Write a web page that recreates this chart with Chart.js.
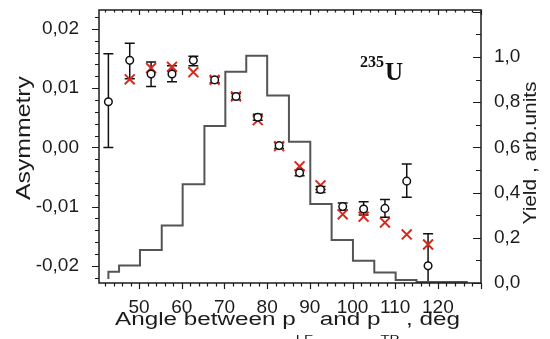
<!DOCTYPE html>
<html>
<head>
<meta charset="utf-8">
<script src="https://cdn.jsdelivr.net/npm/chart.js@4.4.0/dist/chart.umd.min.js"></script>
<style>
  html, body { margin: 0; padding: 0; background: #fff; }
  canvas { display: block; }
</style>
</head>
<body>
<canvas id="chartA" width="550" height="339"></canvas>
<script>
// measured asymmetry (circles with error bars)
const angles = [42.8, 47.8, 52.8, 57.7, 62.7, 67.7, 72.7, 77.8, 82.8, 87.6, 92.5, 97.7, 102.6, 107.6, 112.7, 117.7];
const asymmetry = [0.0077, 0.0147, 0.0124, 0.0124, 0.0147, 0.0114, 0.0086, 0.0051, 0.0003, -0.0043, -0.0071, -0.0100, -0.0104, -0.0103, -0.0057, -0.0200];
const errLow = [0.0000, 0.0116, 0.0103, 0.0111, 0.0138, 0.0109, 0.0081, 0.0046, -0.0002, -0.0048, -0.0076, -0.0106, -0.0114, -0.0118, -0.0084, -0.0260];
const errHigh = [0.0158, 0.0176, 0.0144, 0.0138, 0.0154, 0.0119, 0.0091, 0.0056, 0.0008, -0.0038, -0.0066, -0.0094, -0.0092, -0.0088, -0.0028, -0.0146];

// model asymmetry (red crosses)
const modelAngles = [47.8, 52.8, 57.7, 62.7, 67.7, 72.7, 77.8, 82.8, 87.6, 92.5, 97.7, 102.6, 107.6, 112.7, 117.7];
const modelAsym = [0.0115, 0.0134, 0.0136, 0.0127, 0.0114, 0.0086, 0.0046, 0.0002, -0.0032, -0.0064, -0.0113, -0.0117, -0.0127, -0.0147, -0.0164];

// yield histogram (right axis)
const binEdges = [42.8, 45.3, 50.2, 55.3, 60.2, 65.3, 70.2, 75.1, 80.0, 85.1, 90.1, 95.1, 100.1, 105.1, 110.1, 115.0, 120.0, 127.0];
const yieldValues = [0.018, 0.05, 0.077, 0.146, 0.254, 0.437, 0.695, 0.935, 1.006, 0.83, 0.625, 0.35, 0.19, 0.099, 0.046, 0.013, 0.004];

const xTicks = [50, 60, 70, 80, 90, 100, 110, 120];
const leftTicks = [-0.02, -0.01, 0, 0.01, 0.02];
const rightTicks = [0, 0.2, 0.4, 0.6, 0.8, 1.0];

const FONT = "'Liberation Sans', Arial, sans-serif";
const INK = '#1c1c1c';

// draw text squeezed/stretched to a target width
function stretchText(ctx, text, x, y, font, targetW, rot) {
    ctx.save();
    ctx.font = font;
    const k = targetW / ctx.measureText(text).width;
    ctx.translate(x, y);
    if (rot) ctx.rotate(rot);
    ctx.scale(k, 1);
    ctx.textAlign = 'center';
    ctx.textBaseline = 'middle';
    ctx.fillText(text, 0, 0);
    ctx.restore();
}

const errorBars = {
    id: 'errorBars',
    beforeDatasetsDraw(chart) {
        const {ctx, chartArea: a, scales: {x, y}} = chart;
        ctx.save();
        ctx.beginPath();
        ctx.rect(a.left, a.top, a.right - a.left, a.bottom - a.top);
        ctx.clip();
        ctx.strokeStyle = '#111';
        ctx.lineWidth = 1.5;
        angles.forEach((ang, i) => {
            const px = x.getPixelForValue(ang);
            const lo = y.getPixelForValue(errLow[i]);
            const hi = y.getPixelForValue(errHigh[i]);
            ctx.beginPath();
            ctx.moveTo(px, lo); ctx.lineTo(px, hi);
            ctx.moveTo(px - 5, lo); ctx.lineTo(px + 5, lo);
            ctx.moveTo(px - 5, hi); ctx.lineTo(px + 5, hi);
            ctx.stroke();
        });
        ctx.restore();
    }
};

const frameAndText = {
    id: 'frameAndText',
    afterDraw(chart) {
        const {ctx, chartArea: a, scales: {x, y, y1}} = chart;
        ctx.save();
        ctx.strokeStyle = INK;
        ctx.lineWidth = 1.5;
        ctx.strokeRect(a.left, a.top, a.right - a.left, a.bottom - a.top);
        ctx.lineWidth = 1.2;
        ctx.beginPath();
        // bottom (outward) and top (inward) ticks
        for (let v = 42; v <= 130; v += 2) {
            const px = Math.round(x.getPixelForValue(v)) + 0.5;
            const len = v % 10 === 0 ? 6 : 3.5;
            ctx.moveTo(px, a.bottom); ctx.lineTo(px, a.bottom + len);
            ctx.moveTo(px, a.top); ctx.lineTo(px, a.top + len - 1);
        }
        // left ticks (outward)
        for (let k = -11; k <= 11; k++) {
            const py = Math.round(y.getPixelForValue(k * 0.002)) + 0.5;
            const len = k % 5 === 0 ? 7 : 4;
            ctx.moveTo(a.left, py); ctx.lineTo(a.left - len, py);
        }
        // right ticks (inward)
        for (let k = 0; k <= 12; k++) {
            const py = Math.round(y1.getPixelForValue(k * 0.1)) + 0.5;
            const len = k % 2 === 0 ? 8 : 5;
            ctx.moveTo(a.right, py); ctx.lineTo(a.right - len, py);
        }
        ctx.stroke();

        ctx.fillStyle = INK;
        stretchText(ctx, 'Asymmetry', 24, 138, '20px ' + FONT, 124, -Math.PI / 2);
        stretchText(ctx, 'Yield , arb.units', 531, 153, '19px ' + FONT, 143, -Math.PI / 2);

        // x-axis title with subscripts
        const parts = [['Angle between p', 0], ['LF', 1], [' and p', 0], ['TP', 1], [' , deg', 0]];
        const mainF = '18px ' + FONT, subF = '11px ' + FONT;
        let total = 0;
        parts.forEach(([t, s]) => { ctx.font = s ? subF : mainF; total += ctx.measureText(t).width; });
        ctx.translate(115, 325);
        ctx.scale(345 / total, 1);
        ctx.textAlign = 'left';
        ctx.textBaseline = 'alphabetic';
        let cx = 0;
        parts.forEach(([t, s]) => {
            ctx.font = s ? subF : mainF;
            ctx.fillText(t, cx, s ? 18 : 0);
            cx += ctx.measureText(t).width;
        });
        ctx.restore();

        // isotope label
        ctx.save();
        ctx.fillStyle = '#111';
        ctx.textBaseline = 'alphabetic';
        ctx.font = "bold 16px 'Liberation Serif', 'Times New Roman', serif";
        ctx.fillText('235', 360, 67);
        ctx.font = "bold 25px 'Liberation Serif', 'Times New Roman', serif";
        ctx.fillText('U', 385, 80);
        ctx.restore();
    }
};

function noPad(s) {
    s.paddingTop = 0; s.paddingBottom = 0; s.paddingLeft = 0; s.paddingRight = 0;
}

const ctxA = document.getElementById('chartA').getContext('2d');
const chartA = new Chart(ctxA, {
    data: {
        datasets: [{
            type: 'scatter',
            label: 'Experiment',
            data: angles.map((a, i) => ({x: a, y: asymmetry[i]})),
            yAxisID: 'y',
            pointStyle: 'circle',
            pointRadius: 3.8,
            pointBackgroundColor: '#fff',
            pointBorderColor: '#111',
            pointBorderWidth: 1.5,
        }, {
            type: 'scatter',
            label: 'Model',
            data: modelAngles.map((a, i) => ({x: a, y: modelAsym[i]})),
            yAxisID: 'y',
            pointStyle: 'crossRot',
            pointRadius: 7,
            pointBorderColor: '#d8281e',
            pointBorderWidth: 2,
        }, {
            type: 'line',
            label: 'Yield',
            data: binEdges.map((e, i) => ({x: e, y: yieldValues[Math.min(i, yieldValues.length - 1)]})),
            yAxisID: 'y1',
            stepped: 'after',
            borderColor: '#555',
            borderWidth: 2,
            pointRadius: 0,
            fill: false,
        }],
    },
    options: {
        responsive: false,
        animation: false,
        layout: {padding: {top: 10, left: 0, right: 0, bottom: 0}},
        plugins: {legend: {display: false}, tooltip: {enabled: false}},
        scales: {
            x: {
                type: 'linear', position: 'bottom', min: 40.6, max: 130.1,
                grid: {display: false}, border: {display: false},
                afterBuildTicks: s => { s.ticks = xTicks.map(v => ({value: v})); },
                afterFit: s => { s.height = 56; noPad(s); },
                ticks: {color: INK, font: {family: FONT, size: 19}, padding: 5, maxRotation: 0},
            },
            y: {
                type: 'linear', position: 'left', min: -0.0229, max: 0.0232,
                grid: {display: false}, border: {display: false},
                afterBuildTicks: s => { s.ticks = leftTicks.map(v => ({value: v})); },
                afterFit: s => { s.width = 99; noPad(s); },
                ticks: {color: INK, font: {family: FONT, size: 19}, padding: 12,
                    callback: v => v.toFixed(2).replace('.', ',')},
            },
            y1: {
                type: 'linear', position: 'right', min: 0, max: 1.208,
                grid: {display: false}, border: {display: false},
                afterBuildTicks: s => { s.ticks = rightTicks.map(v => ({value: v})); },
                afterFit: s => { s.width = 69; noPad(s); },
                ticks: {color: INK, font: {family: FONT, size: 19}, padding: 5,
                    callback: v => v.toFixed(1).replace('.', ',')},
            },
        },
    },
    plugins: [errorBars, frameAndText],
});
</script>
</body>
</html>
